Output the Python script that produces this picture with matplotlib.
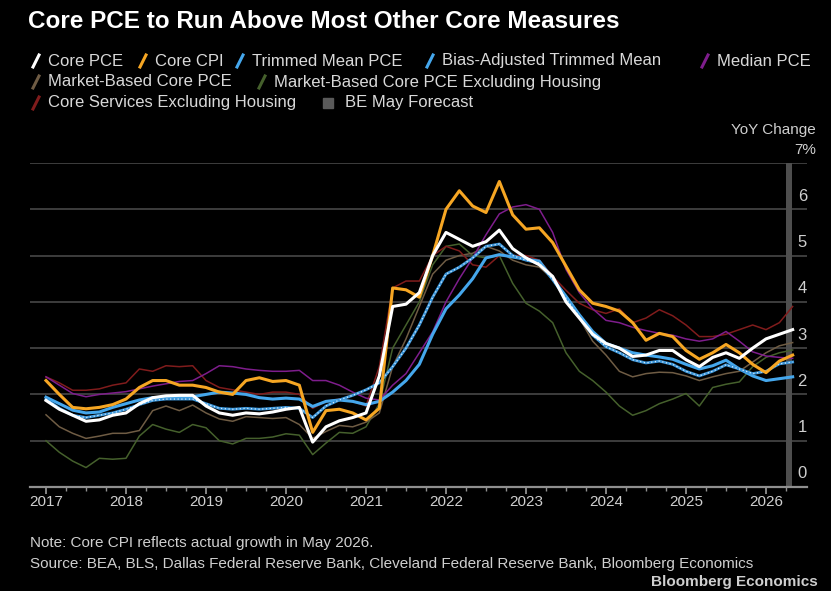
import numpy as np
import pandas as pd
import matplotlib
matplotlib.use("Agg")
import matplotlib.pyplot as plt
from matplotlib.lines import Line2D
from matplotlib.patches import Rectangle

plt.rcParams['font.family'] = ['Liberation Sans', 'DejaVu Sans']

# bi-monthly observations, Jan 2017 .. May 2026
dates = pd.date_range("2017-01-01", "2026-05-01", freq="2MS")

core_pce = [1.87, 1.68, 1.55, 1.42, 1.45, 1.55,
            1.60, 1.80, 1.93, 1.97, 1.98, 1.98,
            1.75, 1.60, 1.55, 1.60, 1.58, 1.62,
            1.68, 1.72, 0.97, 1.30, 1.43, 1.50,
            1.60, 2.40, 3.90, 3.95, 4.20, 5.00,
            5.50, 5.35, 5.20, 5.30, 5.55, 5.15,
            4.95, 4.80, 4.55, 4.00, 3.65, 3.30,
            3.10, 3.00, 2.82, 2.85, 2.95, 2.95,
            2.75, 2.60, 2.80, 2.90, 2.78, 3.00,
            3.20, 3.30, 3.40]
core_cpi = [2.30, 2.00, 1.72, 1.69, 1.72, 1.78,
            1.90, 2.15, 2.30, 2.30, 2.20, 2.20,
            2.15, 2.05, 2.00, 2.30, 2.36, 2.28,
            2.30, 2.20, 1.18, 1.65, 1.68, 1.60,
            1.45, 1.70, 4.30, 4.26, 4.10, 5.00,
            6.00, 6.40, 6.07, 5.93, 6.60, 5.88,
            5.57, 5.60, 5.28, 4.77, 4.26, 3.97,
            3.90, 3.80, 3.55, 3.17, 3.32, 3.25,
            2.95, 2.76, 2.90, 3.08, 2.90, 2.65,
            2.47, 2.72, 2.85]
trimmed_mean = [1.94, 1.80, 1.66, 1.60, 1.62, 1.72,
                1.80, 1.88, 1.93, 1.94, 1.94, 1.95,
                2.00, 2.05, 2.03, 2.00, 1.93, 1.90,
                1.92, 1.90, 1.74, 1.85, 1.88, 1.85,
                1.78, 1.85, 2.05, 2.30, 2.65, 3.30,
                3.85, 4.15, 4.50, 4.95, 5.02, 4.97,
                4.92, 4.88, 4.50, 4.12, 3.72, 3.36,
                3.10, 3.00, 2.90, 2.85, 2.81, 2.76,
                2.65, 2.55, 2.62, 2.74, 2.55, 2.40,
                2.30, 2.34, 2.38]
bias_adjusted = [1.90, 1.70, 1.55, 1.50, 1.55, 1.60,
                 1.68, 1.78, 1.87, 1.90, 1.90, 1.90,
                 1.80, 1.70, 1.68, 1.70, 1.68, 1.70,
                 1.72, 1.70, 1.50, 1.75, 1.88, 1.98,
                 2.10, 2.25, 2.60, 3.00, 3.50, 4.10,
                 4.60, 4.75, 4.95, 5.20, 5.25, 5.00,
                 4.90, 4.84, 4.48, 4.08, 3.68, 3.28,
                 3.03, 2.90, 2.75, 2.68, 2.72, 2.65,
                 2.50, 2.40, 2.50, 2.64, 2.55, 2.45,
                 2.50, 2.66, 2.70]
median_pce = [2.38, 2.20, 2.02, 1.95, 2.00, 2.03,
              2.06, 2.12, 2.18, 2.23, 2.28, 2.30,
              2.45, 2.62, 2.60, 2.55, 2.52, 2.50,
              2.50, 2.52, 2.30, 2.30, 2.20, 2.05,
              1.92, 1.88, 2.20, 2.45, 2.90, 3.35,
              4.00, 4.50, 4.95, 5.45, 5.90, 6.05,
              6.10, 6.00, 5.50, 4.70, 4.20, 3.85,
              3.60, 3.55, 3.45, 3.38, 3.32, 3.28,
              3.20, 3.15, 3.20, 3.36, 3.15, 2.92,
              2.83, 2.80, 2.78]
market_based = [1.56, 1.30, 1.16, 1.05, 1.10, 1.16,
                1.16, 1.22, 1.65, 1.75, 1.65, 1.77,
                1.60, 1.47, 1.42, 1.52, 1.50, 1.48,
                1.50, 1.35, 1.05, 1.20, 1.33, 1.30,
                1.40, 1.60, 2.60, 3.20, 3.90, 4.60,
                4.90, 5.00, 5.05, 5.20, 5.10, 4.90,
                4.80, 4.75, 4.50, 4.05, 3.65, 3.15,
                2.85, 2.50, 2.38, 2.45, 2.48, 2.47,
                2.40, 2.30, 2.38, 2.45, 2.50, 2.70,
                2.90, 3.05, 3.12]
market_ex_housing = [1.00, 0.75, 0.56, 0.42, 0.62, 0.60,
                     0.62, 1.10, 1.35, 1.25, 1.18, 1.35,
                     1.28, 1.00, 0.93, 1.05, 1.05, 1.08,
                     1.15, 1.12, 0.70, 0.95, 1.18, 1.16,
                     1.30, 1.80, 3.00, 3.50, 4.00, 4.80,
                     5.20, 5.25, 5.00, 4.95, 5.00, 4.40,
                     3.97, 3.80, 3.55, 2.90, 2.50, 2.30,
                     2.05, 1.75, 1.55, 1.65, 1.80, 1.90,
                     2.02, 1.75, 2.15, 2.22, 2.27, 2.60,
                     2.80, 2.90, 2.96]
services_ex_housing = [2.38, 2.25, 2.09, 2.09, 2.12, 2.20,
                       2.25, 2.55, 2.50, 2.62, 2.60, 2.62,
                       2.30, 2.15, 2.10, 2.05, 2.00, 2.05,
                       2.05, 2.00, 1.70, 1.85, 1.90, 1.85,
                       1.75, 2.60, 4.30, 4.45, 4.45, 5.00,
                       5.20, 5.10, 4.80, 4.75, 5.00, 5.00,
                       5.00, 4.90, 4.55, 4.25, 3.97, 3.83,
                       3.75, 3.85, 3.55, 3.65, 3.83, 3.70,
                       3.50, 3.25, 3.25, 3.30, 3.40, 3.50,
                       3.40, 3.55, 3.90]

year_ticks = list(range(2017, 2027))
y_ticks = [0, 1, 2, 3, 4, 5, 6]

W, H = 831, 591
def fx(x): return x / W
def fy(y): return 1 - y / H

x = dates.year + (dates.month - 1) / 12.0

fig = plt.figure(figsize=(W / 100, H / 100), dpi=100, facecolor='black')
ax = fig.add_axes([fx(30), fy(487), fx(807) - fx(30), fy(163) - fy(487)])
ax.set_facecolor('black')
ax.set_xlim(2016.8, 2026.5125)
ax.set_ylim(0, 7)

for v in range(1, 8):
    ax.axhline(v, color='#424242', lw=1.3, zorder=1)

# BE May forecast band
ax.axvspan(2026.255, 2026.328, color='#4e4e4e', lw=0, zorder=1)

thin = 1.1
ax.plot(x, market_ex_housing, color='#45602c', lw=thin, zorder=2)
ax.plot(x, market_based, color='#6f5c44', lw=thin, zorder=2)
ax.plot(x, services_ex_housing, color='#801c1c', lw=thin, zorder=2)
ax.plot(x, median_pce, color='#7e1d8c', lw=thin, zorder=2)
ax.plot(x, trimmed_mean, color='#45a7ec', lw=2.2, zorder=3)
ax.plot(x, bias_adjusted, color='#3b95d8', lw=2.0, zorder=3)
ax.plot(x, bias_adjusted, color='#d5ecff', lw=0.9, ls=(0, (1, 2)), zorder=3)
ax.plot(x, core_cpi, color='#f6a623', lw=2.2, zorder=4)
ax.plot(x, core_pce, color='white', lw=2.2, zorder=5)

for s in ['top', 'right', 'left']:
    ax.spines[s].set_visible(False)
ax.spines['bottom'].set_color('#8f8f8f')
ax.spines['bottom'].set_linewidth(1.6)
ax.set_xticks(year_ticks)
ax.set_xticklabels([str(y) for y in year_ticks])
ax.set_xticks([y + q / 4 for y in range(2016, 2027) for q in (1, 2, 3)
               if 2016.8 < y + q / 4 < 2026.5], minor=True)
ax.tick_params(axis='x', which='major', length=5, width=1.3, color='#8f8f8f',
               labelcolor='#cfcfcf', labelsize=11, pad=1)
ax.tick_params(axis='x', which='minor', length=3, width=1.0, color='#8f8f8f')
ax.set_yticks([])

for v in y_ticks:
    ax.text(1.0, v + 0.12, str(v), transform=ax.get_yaxis_transform(),
            ha='right', va='bottom', color='#cfcfcf', fontsize=12)

fig.text(fx(816), fy(130), 'YoY Change', ha='right', va='center', color='#cfcfcf', fontsize=11)
fig.text(fx(816), fy(150), '7%', ha='right', va='center', color='#cfcfcf', fontsize=11)

fig.text(fx(28), fy(22), 'Core PCE to Run Above Most Other Core Measures', ha='left', va='center',
         color='white', fontsize=17.5, fontweight='bold')

legend = [
    (36, 61, 'Core PCE', 'white'),
    (143, 61, 'Core CPI', '#f6a623'),
    (240, 61, 'Trimmed Mean PCE', '#45a7ec'),
    (430, 61, 'Bias-Adjusted Trimmed Mean', '#45a7ec'),
    (705, 61, 'Median PCE', '#7e1d8c'),
    (36, 82, 'Market-Based Core PCE', '#6f5c44'),
    (262, 82, 'Market-Based Core PCE Excluding Housing', '#45602c'),
    (36, 103, 'Core Services Excluding Housing', '#801c1c'),
]
for lx, ly, label, col in legend:
    fig.add_artist(Line2D([fx(lx - 3), fx(lx + 3)], [fy(ly + 6), fy(ly - 6)],
                          color=col, lw=2.2, transform=fig.transFigure))
    fig.text(fx(lx + 12), fy(ly), label, ha='left', va='center', color='#d9d9d9', fontsize=12)
fig.add_artist(Rectangle((fx(323), fy(108)), fx(10), fy(98) - fy(108),
                         color='#5a5a5a', transform=fig.transFigure))
fig.text(fx(345), fy(103), 'BE May Forecast', ha='left', va='center', color='#d9d9d9', fontsize=12)

fig.text(fx(30), fy(543), 'Note: Core CPI reflects actual growth in May 2026.', ha='left', va='center',
         color='#cfcfcf', fontsize=11)
fig.text(fx(30), fy(564), 'Source: BEA, BLS, Dallas Federal Reserve Bank, Cleveland Federal Reserve Bank, '
         'Bloomberg Economics', ha='left', va='center', color='#cfcfcf', fontsize=11)
fig.text(fx(818), fy(582), 'Bloomberg Economics', ha='right', va='center', color='#cfcfcf',
         fontsize=11, fontweight='bold')

fig.savefig('out.png', dpi=100, facecolor='black')
